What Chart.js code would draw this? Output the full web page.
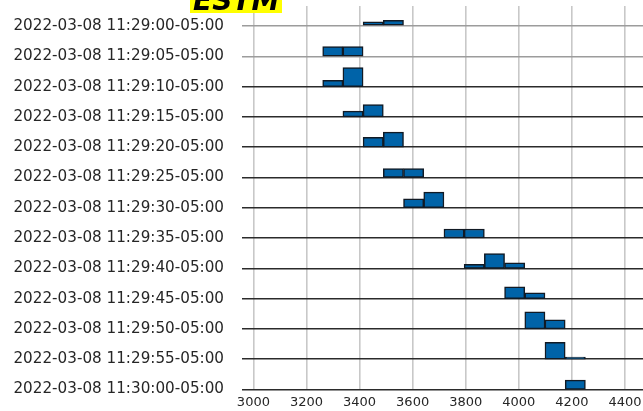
<!DOCTYPE html>
<html>
<head>
<meta charset="utf-8">
<script src="https://cdn.jsdelivr.net/npm/chart.js@4.4.1/dist/chart.umd.min.js"></script>
<style>
  html, body { margin: 0; padding: 0; background: #fff; }
  #wrap { position: relative; width: 643px; height: 411px; overflow: hidden; }
  #c { position: absolute; left: 0; top: 0; }
  #title {
    position: absolute; left: 190px; top: -11px; z-index: 2;
    font: italic bold 28px/24px 'DejaVu Sans', sans-serif;
    background: #ffff00; color: #000; padding: 0 3px; white-space: nowrap;
  }
</style>
</head>
<body>
<div id="wrap">
  <canvas id="c" width="643" height="411"></canvas>
  <div id="title">ESTM</div>
</div>
<script>
// One ridge per 5-second window, top to bottom
const timestamps = [
  '2022-03-08 11:29:00-05:00',
  '2022-03-08 11:29:05-05:00',
  '2022-03-08 11:29:10-05:00',
  '2022-03-08 11:29:15-05:00',
  '2022-03-08 11:29:20-05:00',
  '2022-03-08 11:29:25-05:00',
  '2022-03-08 11:29:30-05:00',
  '2022-03-08 11:29:35-05:00',
  '2022-03-08 11:29:40-05:00',
  '2022-03-08 11:29:45-05:00',
  '2022-03-08 11:29:50-05:00',
  '2022-03-08 11:29:55-05:00',
  '2022-03-08 11:30:00-05:00'
];

// Shared histogram bin edges
const binEdges = [3261.0, 3337.2, 3413.3, 3489.5, 3565.6, 3641.8, 3717.9,
                  3794.1, 3870.2, 3946.4, 4022.5, 4098.7, 4174.8, 4251.0];

// Bin heights for each window (one entry per bin)
const counts = [
  [0,   0,   1.4, 1.9, 0,   0,   0,   0,   0,   0,   0,   0,   0  ],
  [3.2, 3.2, 0,   0,   0,   0,   0,   0,   0,   0,   0,   0,   0  ],
  [2.1, 6.3, 0,   0,   0,   0,   0,   0,   0,   0,   0,   0,   0  ],
  [0,   1.9, 4.1, 0,   0,   0,   0,   0,   0,   0,   0,   0,   0  ],
  [0,   0,   3.3, 5.0, 0,   0,   0,   0,   0,   0,   0,   0,   0  ],
  [0,   0,   0,   3.0, 3.0, 0,   0,   0,   0,   0,   0,   0,   0  ],
  [0,   0,   0,   0,   3.0, 5.2, 0,   0,   0,   0,   0,   0,   0  ],
  [0,   0,   0,   0,   0,   0,   3.0, 3.0, 0,   0,   0,   0,   0  ],
  [0,   0,   0,   0,   0,   0,   0,   1.3, 4.9, 1.8, 0,   0,   0  ],
  [0,   0,   0,   0,   0,   0,   0,   0,   0,   3.9, 1.9, 0,   0  ],
  [0,   0,   0,   0,   0,   0,   0,   0,   0,   0,   5.7, 3.0, 0  ],
  [0,   0,   0,   0,   0,   0,   0,   0,   0,   0,   0,   5.6, 0.7],
  [0,   0,   0,   0,   0,   0,   0,   0,   0,   0,   0,   0,   3.1]
];

const xTicks = [3000, 3200, 3400, 3600, 3800, 4000, 4200, 4400];

// Height of one count unit, as a fraction of the spacing between ridges
const rowScale = 0.099;

// Each bin becomes a floating bar rising from its ridge baseline
const barData = [];
counts.forEach((row, r) => {
  row.forEach((v, b) => {
    if (v > 0) {
      barData.push({
        x: (binEdges[b] + binEdges[b + 1]) / 2,
        y: [r, r - v * rowScale]
      });
    }
  });
});

const font = 'DejaVu Sans';

new Chart(document.getElementById('c'), {
  type: 'bar',
  data: {
    datasets: [{
      data: barData,
      backgroundColor: '#0063a8',
      borderColor: '#111a24',
      borderWidth: 1.5,
      borderSkipped: false,
      barPercentage: 1,
      categoryPercentage: 1,
      grouped: false
    }]
  },
  options: {
    responsive: false,
    animation: false,
    layout: { padding: { top: 6, left: 0, right: 0, bottom: 0 } },
    plugins: {
      legend: { display: false },
      tooltip: { enabled: false },
      title: { display: false }
    },
    scales: {
      x: {
        type: 'linear',
        min: 2957,
        max: 4468,
        offset: false,
        grid: { color: '#c8c8c8', lineWidth: 1.6, drawTicks: false, offset: false },
        border: { display: false },
        ticks: {
          padding: 5.5,
          autoSkip: false,
          maxRotation: 0,
          color: '#262626',
          font: { family: font, size: 13 },
          callback: v => String(v)
        },
        afterBuildTicks: s => { s.ticks = xTicks.map(v => ({ value: v })); },
        afterFit: s => { s.height = 21.5; s.paddingLeft = 0; s.paddingRight = 0; }
      },
      y: {
        type: 'linear',
        reverse: true,
        min: -0.66,
        max: timestamps.length - 1,
        grid: {
          color: c => (c.index < 2 ? '#9c9c9c' : '#2b2b2b'),
          lineWidth: 1.5,
          drawTicks: false
        },
        border: { display: false },
        ticks: {
          padding: 18,
          autoSkip: false,
          color: '#262626',
          font: { family: font, size: 15.2 },
          callback: v => (timestamps[v] !== undefined ? timestamps[v] : '')
        },
        afterBuildTicks: s => { s.ticks = timestamps.map((_, i) => ({ value: i })); },
        afterFit: s => { s.width = 242; s.paddingTop = 0; s.paddingBottom = 0; }
      }
    }
  }
});
</script>
</body>
</html>
